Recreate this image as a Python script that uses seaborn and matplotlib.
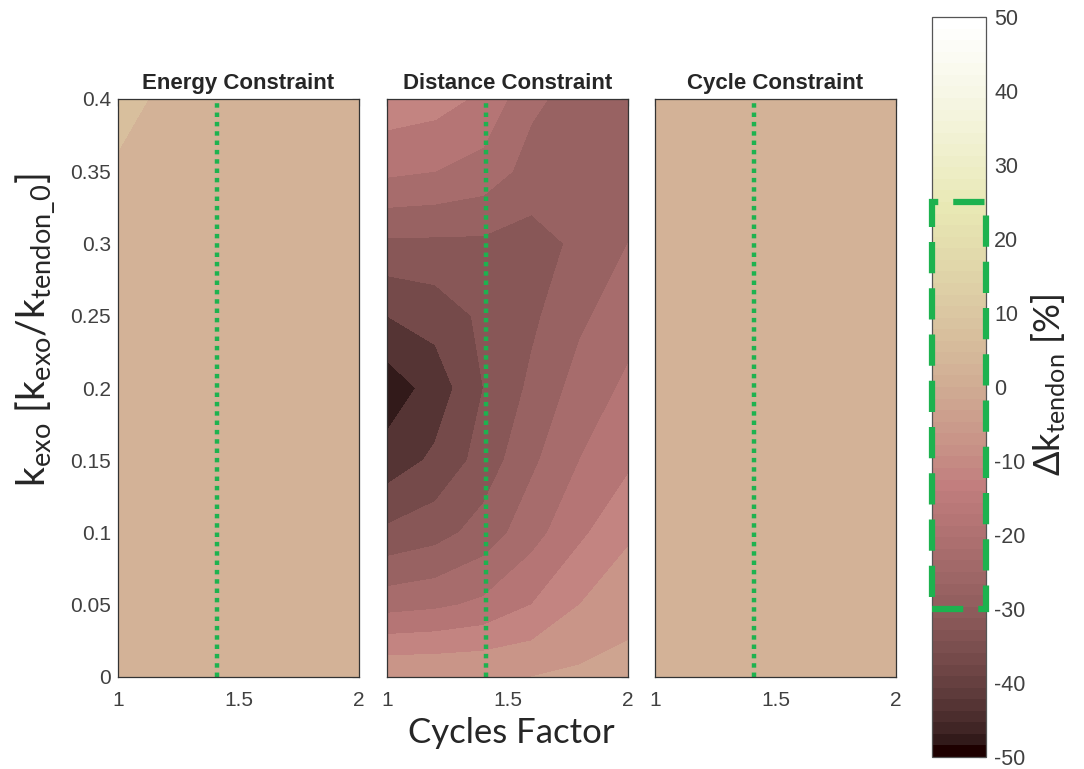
import numpy as np
import matplotlib
matplotlib.use("Agg")
import matplotlib.pyplot as plt
import seaborn as sns
from matplotlib.colors import ListedColormap, Normalize
from matplotlib.cm import ScalarMappable
from matplotlib.patches import Rectangle

# ---------------- data ----------------
cycles_factor = [1.0, 1.2, 1.4, 1.6, 1.8, 2.0]
k_exo = [0.0, 0.05, 0.10, 0.15, 0.20, 0.25, 0.30, 0.35, 0.40]

# Delta k_tendon [%]; rows follow k_exo, columns follow cycles_factor
energy_constraint = [
    [1, 1, 1, 1, 1, 1],
    [1, 1, 1, 1, 1, 1],
    [1, 1, 1, 1, 1, 1],
    [1, 1, 1, 1, 1, 1],
    [1, 1, 1, 1, 1, 1],
    [1, 1, 1, 1, 1, 1],
    [1, 1, 1, 1, 1, 1],
    [3, 1, 1, 1, 1, 1],
    [10, 2, 1, 1, 1, 1],
]
distance_constraint = [
    [-5, -5, -5, -5, -4, -4],
    [-22, -21, -19, -15, -10, -6],
    [-34, -32, -28, -22, -16, -11],
    [-43, -39, -33, -26, -20, -16],
    [-48, -43, -35, -29, -23, -19],
    [-40, -38, -34, -31, -26, -22],
    [-31, -31, -31, -32, -29, -25],
    [-19, -20, -22, -27, -28, -27],
    [-12, -13, -16, -24, -27, -27],
]
cycle_constraint = [
    [1, 1, 1, 1, 1, 1],
    [1, 1, 1, 1, 1, 1],
    [1, 1, 1, 1, 1, 1],
    [1, 1, 1, 1, 1, 1],
    [1, 1, 1, 1, 1, 1],
    [1, 1, 1, 1, 1, 1],
    [1, 1, 1, 1, 1, 1],
    [1, 1, 1, 1, 1, 1],
    [1, 1, 1, 1, 1, 1],
]
panel_titles = ["Energy Constraint", "Distance Constraint", "Cycle Constraint"]
reference_cycles = 1.41
x_ticks = [1, 1.5, 2]
x_tick_labels = ["1", "1.5", "2"]
y_ticks = [0, 0.05, 0.1, 0.15, 0.2, 0.25, 0.3, 0.35, 0.4]
y_tick_labels = ["0", "0.05", "0.1", "0.15", "0.2", "0.25", "0.3", "0.35", "0.4"]
cbar_ticks = [-50, -40, -30, -20, -10, 0, 10, 20, 30, 40, 50]
highlight_range = [-30, 25]

# ---------------- style ----------------
sns.set_style("white")
plt.rcParams["font.family"] = ["Liberation Sans", "DejaVu Sans"]
plt.rcParams["mathtext.fontset"] = "custom"
plt.rcParams["mathtext.rm"] = "Lato"
plt.rcParams["mathtext.it"] = "Lato:italic"

# MATLAB-like "pink" colormap (64 colours)
m = 64
n = int(3 / 8 * m)
gray = np.linspace(0, 1, m)
hot_r = np.concatenate([np.arange(1, n + 1) / n, np.ones(m - n)])
hot_g = np.concatenate([np.zeros(n), np.arange(1, n + 1) / n, np.ones(m - 2 * n)])
hot_b = np.concatenate([np.zeros(2 * n), np.arange(1, m - 2 * n + 1) / (m - 2 * n)])
pink = np.sqrt((2 * gray[:, None] + np.stack([hot_r, hot_g, hot_b], axis=1)) / 3)
cmap = ListedColormap(np.clip(pink, 0, 1))
norm = Normalize(-50, 50)
levels = np.arange(-50, 51, 5)

W, H = 1084, 769
fig = plt.figure(figsize=(W / 100, H / 100), dpi=100)

def fx(px):
    return px / W

def fy(py):
    return 1 - py / H

panel_lefts = [118, 387, 655]
panel_w = 241
top, bottom = 99, 677
green = "#1DB24F"
tick_col = "#404040"

X, Y = np.meshgrid(cycles_factor, k_exo)
datasets = [energy_constraint, distance_constraint, cycle_constraint]

for i, (left, data, title) in enumerate(zip(panel_lefts, datasets, panel_titles)):
    ax = fig.add_axes([fx(left), fy(bottom), fx(panel_w), (bottom - top) / H])
    ax.contourf(X, Y, np.array(data, dtype=float), levels=levels, cmap=cmap, norm=norm)
    ax.axvline(reference_cycles, color=green, lw=3.2, linestyle=(0, (1, 1.1)))
    ax.set_xlim(1, 2)
    ax.set_ylim(0, 0.4)
    ax.set_xticks(x_ticks)
    ax.set_xticklabels(x_tick_labels)
    ax.set_yticks(y_ticks)
    if i == 0:
        ax.set_yticklabels(y_tick_labels)
    else:
        ax.set_yticklabels([])
    ax.tick_params(direction="in", length=5, width=0.8, top=True, right=True,
                   labelsize=15, labelcolor=tick_col, color="#333333")
    ax.tick_params(axis="x", pad=10)
    ax.tick_params(axis="y", pad=5)
    for s in ax.spines.values():
        s.set_color("#333333")
        s.set_linewidth(0.9)
    ax.set_title(title, fontsize=16, fontweight="bold", pad=7)

# shared labels
fig.text(fx(511), fy(733), "Cycles Factor", fontsize=25, family=["Lato", "DejaVu Sans"],
         ha="center", va="center")
fig.text(fx(35), fy(330), r"$\mathrm{k_{exo}\ [k_{exo}/k_{tendon\_0}]}$", fontsize=28,
         rotation=90, ha="center", va="center")

# colorbar
cb_top, cb_bot = 17, 757
cax = fig.add_axes([fx(932), fy(cb_bot), fx(986 - 932), (cb_bot - cb_top) / H])
sm = ScalarMappable(norm=norm, cmap=cmap)
cb = fig.colorbar(sm, cax=cax, ticks=cbar_ticks)
cb.outline.set_edgecolor("#555555")
cb.outline.set_linewidth(0.9)
cax.tick_params(direction="in", length=5, width=0.8, labelsize=15.5, labelcolor=tick_col,
                color="#333333", pad=6)
cax.set_yticklabels([str(t) for t in cbar_ticks])
fig.text(fx(1049), fy(385), r"$\mathrm{\Delta k_{tendon}\ [\%]}$", fontsize=26,
         rotation=90, ha="center", va="center")

rect = Rectangle((0.0, highlight_range[0]), 1.0, highlight_range[1] - highlight_range[0],
                 fill=False, edgecolor=green, lw=4.5, linestyle=(0, (5, 2.4)),
                 transform=cax.get_yaxis_transform(), clip_on=False, zorder=5)
cax.add_patch(rect)

fig.savefig("out.png", dpi=100)
